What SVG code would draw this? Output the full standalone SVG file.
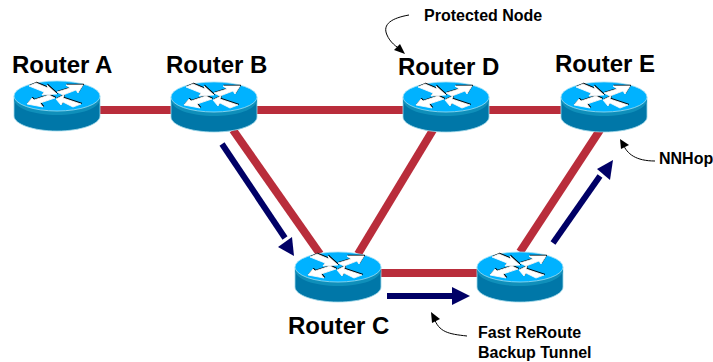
<svg xmlns="http://www.w3.org/2000/svg" width="713" height="362" viewBox="0 0 713 362">
<style>
.l{fill:#000;font-family:"Liberation Sans",Arial,sans-serif;font-weight:700;font-size:24px}
.s{fill:#000;font-family:"Liberation Sans",Arial,sans-serif;font-weight:700;font-size:16px}
.r{stroke:#b92d3b;stroke-width:8;fill:none}
.t{stroke:#000066;stroke-width:6;fill:none}
.n{fill:#000066}
.c{stroke:#000;stroke-width:1;fill:none}
.gw{fill:#fff;stroke:#fff;stroke-width:0.8}
.gk{fill:#000;stroke:#000;stroke-width:0.8}
</style>
<defs>
<g id="glyph">
<path d="M-28-10L-21-13L-9-8L-10-11L0-2L-15-1L-13-4Z"/>
<path d="M26-11L9-11L13-8L0-4L6-1L19-6L21-3Z"/>
<path d="M-30 8L-25 2L-23 4L-8-1L-2 2L-17 7L-14 11Z"/>
<path d="M-1 3L7-1L6 2L24 8L16 11L6 6L4 9Z"/>
</g>
<g id="router">
<path d="M-43 0V20C-43 28-24 35 0 35S43 28 43 20V0Z" fill="#0077a8" stroke="#9fd8ea" stroke-width="0.8"/>
<path d="M-43 0V3C-43 12-24 19 0 19S43 12 43 3V0Z" fill="#0f8fba"/>
<ellipse cx="0" cy="0" rx="43" ry="15" fill="#00b2ff" stroke="#9fe0f5" stroke-width="0.8"/>
<use href="#glyph" x="0.7" y="-0.8" class="gk"/>
<use href="#glyph" class="gw"/>
</g>
</defs>
<g id="connectors">
<line class="r" x1="100" y1="110" x2="171" y2="110"/>
<line class="r" x1="256" y1="110" x2="403" y2="110"/>
<line class="r" x1="488" y1="110" x2="561" y2="110"/>
<line class="r" x1="233" y1="130" x2="320" y2="254"/>
<line class="r" x1="433" y1="130" x2="358" y2="254"/>
<line class="r" x1="600" y1="130" x2="520" y2="252"/>
<line class="r" x1="381" y1="273" x2="477" y2="273"/>
<line class="t" x1="222" y1="144" x2="285" y2="238"/>
<polygon class="n" points="294,256 278,247 292,237"/>
<line class="t" x1="387" y1="296" x2="454" y2="296"/>
<polygon class="n" points="470,296 452,287 452,305"/>
<line class="t" x1="553" y1="243" x2="600" y2="176"/>
<polygon class="n" points="613,160 597,169 610,180"/>
<path class="c" d="M409 15C392 18 382 24 387 35C390 42 396 47 402 50"/>
<polygon points="405,54 394,50 400,44" fill="#000"/>
<path class="c" d="M655 161C636 161 627 154 623 144"/>
<polygon points="620,139 629,145 621,149" fill="#000"/>
<path class="c" d="M467 336C448 334 439 332 434 318"/>
<polygon points="431,312 440,319 432,323" fill="#000"/>
</g>
<g id="router-a"><use href="#router" x="57" y="96"/><text class="l" x="12" y="73">Router A</text></g>
<g id="router-b"><use href="#router" x="214" y="97"/><text class="l" x="166" y="73">Router B</text></g>
<g id="router-d"><use href="#router" x="446" y="97"/><text class="l" x="398" y="75">Router D</text></g>
<g id="router-e"><use href="#router" x="604" y="97"/><text class="l" x="555" y="72">Router E</text></g>
<g id="router-c"><use href="#router" x="338" y="267"/><text class="l" x="288" y="334">Router C</text></g>
<g id="router-f"><use href="#router" x="520" y="267"/></g>
<g id="notes">
<text class="s" x="424" y="21">Protected Node</text>
<text class="s" x="659" y="164">NNHop</text>
<text class="s" x="478" y="338">Fast ReRoute</text>
<text class="s" x="478" y="358">Backup Tunnel</text>
</g>
</svg>
